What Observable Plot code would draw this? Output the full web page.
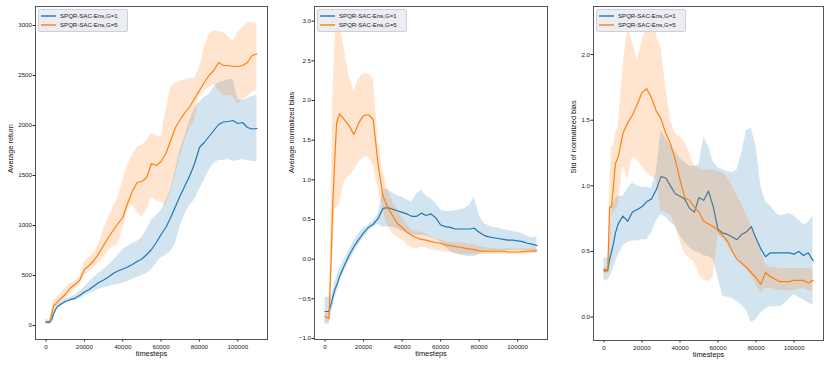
<!DOCTYPE html>
<html><head><meta charset="utf-8">
<script src="https://cdn.jsdelivr.net/npm/d3@7"></script>
<script src="https://cdn.jsdelivr.net/npm/@observablehq/plot@0.6"></script>
<style>
body{margin:0;background:#fff;font-family:"Liberation Sans",Arial,sans-serif;}
#wrap{position:relative;width:830px;height:365px;overflow:hidden;}
.panel{position:absolute;top:0;}
.legend{position:absolute;top:9px;width:90px;height:23px;background:rgba(234,234,242,0.9);border:0.8px solid #cfcfd8;border-radius:2px;box-sizing:border-box;}
.legend svg{position:absolute;left:0;top:0;overflow:visible;}
</style>
</head><body><div id="wrap"></div>
<script>
const steps = [0, 2000, 3000, 4000, 5000, 6000, 7500, 10000, 12500, 15000, 17500, 20000, 22500, 25000, 27500, 30000, 32500, 35000, 37500, 40000, 42500, 45000, 47500, 50000, 52500, 55000, 57500, 60000, 62500, 65000, 67500, 70000, 72500, 75000, 77500, 80000, 82500, 85000, 87500, 90000, 92500, 95000, 97500, 100000, 102500, 105000, 107500, 110000];

const seriesNames = ["SPQR-SAC-Ens,G=1", "SPQR-SAC-Ens,G=5"];
const seriesColors = ["#1f77b4", "#ff7f0e"];
const xTicks = [0, 20000, 40000, 60000, 80000, 100000];
const xLabel = "timesteps";

// Panel 1: Average return
const returnG1   = [30,30,60,120,160,190,210, 240,258,272,300,335,360,395,430,455,485,520,545,565,585,610,640,665,710,760,830,910,980,1080,1190,1300,1400,1500,1620,1780,1830,1890,1950,2010,2035,2040,2050,2020,2030,1980,1965,1970];
const returnG1Lo = [15,15,45,100,140,170,190, 220,240,250,270,295,320,340,360,375,390,400,410,420,440,460,480,500,520,560,620,680,700,740,820,990,1120,1200,1260,1360,1450,1550,1620,1650,1650,1660,1640,1650,1660,1650,1640,1640];
const returnG1Hi = [50,50,75,140,180,210,230, 262,280,300,340,385,430,480,520,560,600,650,700,760,790,820,840,880,960,1050,1100,1150,1240,1360,1560,1760,1900,2050,2170,2230,2280,2310,2380,2430,2440,2460,2460,2260,2250,2270,2290,2300];
const returnG5   = [40,40,120,200,215,240,265, 310,370,410,450,560,600,650,720,800,880,950,1020,1080,1220,1340,1430,1440,1480,1620,1600,1640,1720,1850,1980,2060,2130,2190,2270,2350,2430,2500,2550,2630,2600,2600,2590,2590,2600,2630,2700,2715];
const returnG5Lo = [20,20,80,150,170,200,220, 260,320,360,400,500,540,580,630,680,740,790,810,960,1150,1210,1130,1090,1150,1280,1250,1230,1200,1330,1500,1700,1850,1980,2050,2300,2340,2380,2410,2350,2300,2300,2290,2220,2250,2290,2330,2350];
const returnG5Hi = [60,60,160,250,260,290,310, 370,420,440,480,640,680,720,820,960,1080,1180,1280,1450,1600,1700,1780,1800,1850,1920,1900,1880,2150,2380,2420,2440,2460,2470,2470,2580,2780,2910,2950,2940,2930,2890,2840,2930,2980,3030,3030,3020];
const returnTicks = [0, 500, 1000, 1500, 2000, 2500, 3000];

// Panel 2: Average normalized bias
const biasG1   = [-0.66,-0.66,-0.58,-0.48,-0.39,-0.33,-0.22, -0.08,0.05,0.16,0.25,0.33,0.40,0.44,0.51,0.64,0.65,0.63,0.61,0.59,0.57,0.54,0.54,0.58,0.55,0.57,0.52,0.43,0.41,0.40,0.38,0.38,0.38,0.38,0.39,0.34,0.30,0.28,0.27,0.26,0.25,0.24,0.24,0.23,0.22,0.20,0.19,0.17];
const biasG1Lo = [-0.82,-0.82,-0.72,-0.60,-0.50,-0.42,-0.30, -0.15,-0.03,0.08,0.18,0.27,0.35,0.40,0.44,0.40,0.41,0.40,0.38,0.35,0.33,0.31,0.30,0.30,0.29,0.27,0.25,0.22,0.15,0.10,0.07,0.05,0.04,0.03,0.03,0.06,0.10,0.11,0.11,0.11,0.11,0.11,0.11,0.11,0.11,0.11,0.10,0.10];
const biasG1Hi = [-0.48,-0.48,-0.50,-0.40,-0.30,-0.22,-0.12, 0.00,0.12,0.23,0.32,0.39,0.43,0.48,0.56,0.87,0.88,0.83,0.80,0.78,0.75,0.72,0.82,0.87,0.80,0.76,0.70,0.62,0.60,0.60,0.61,0.62,0.64,0.68,0.78,0.55,0.45,0.42,0.40,0.39,0.37,0.36,0.35,0.34,0.32,0.29,0.27,0.28];
const biasG5   = [-0.72,-0.75,-0.10,0.70,1.25,1.72,1.83, 1.76,1.68,1.57,1.72,1.81,1.82,1.76,1.20,0.80,0.65,0.55,0.45,0.40,0.34,0.30,0.27,0.25,0.24,0.22,0.21,0.20,0.18,0.17,0.16,0.15,0.14,0.13,0.12,0.105,0.10,0.10,0.10,0.10,0.10,0.09,0.09,0.09,0.095,0.10,0.10,0.105];
const biasG5Lo = [-0.78,-0.80,-0.55,0.00,0.60,0.65,0.68, 0.98,1.05,1.12,1.22,1.28,1.29,1.17,0.90,0.62,0.41,0.32,0.28,0.24,0.18,0.14,0.13,0.15,0.14,0.12,0.11,0.10,0.09,0.08,0.07,0.06,0.06,0.06,0.06,0.06,0.06,0.06,0.06,0.06,0.06,0.06,0.06,0.06,0.06,0.06,0.07,0.07];
const biasG5Hi = [-0.68,-0.68,0.50,2.00,2.70,3.10,2.95, 2.65,2.30,2.12,2.27,2.34,2.33,2.27,1.50,1.10,0.88,0.72,0.62,0.52,0.44,0.37,0.35,0.34,0.32,0.28,0.26,0.24,0.22,0.21,0.21,0.20,0.20,0.19,0.18,0.16,0.15,0.14,0.13,0.13,0.13,0.13,0.13,0.13,0.13,0.13,0.14,0.14];
const biasTicks = [-1, -0.5, 0, 0.5, 1, 1.5, 2, 2.5, 3];

// Panel 3: Std of normalized bias
const stdG1   = [0.36,0.36,0.44,0.50,0.56,0.64,0.71, 0.77,0.73,0.80,0.82,0.84,0.88,0.90,0.97,1.07,1.06,1.00,0.94,0.92,0.90,0.83,0.80,0.91,0.89,0.96,0.84,0.67,0.64,0.63,0.61,0.59,0.63,0.65,0.69,0.60,0.52,0.46,0.49,0.49,0.49,0.49,0.49,0.48,0.50,0.47,0.49,0.43];
const stdG1Lo = [0.28,0.28,0.30,0.33,0.38,0.42,0.47, 0.54,0.57,0.58,0.58,0.59,0.59,0.64,0.73,0.78,0.76,0.72,0.69,0.62,0.57,0.53,0.50,0.49,0.47,0.46,0.44,0.30,0.16,0.15,0.14,0.12,0.09,0.05,-0.04,-0.02,0.03,0.06,0.08,0.08,0.08,0.10,0.14,0.17,0.15,0.13,0.11,0.09];
const stdG1Hi = [0.45,0.45,0.55,0.80,0.87,0.90,0.92, 0.92,0.98,1.02,1.00,0.99,0.99,0.98,1.10,1.42,1.36,1.31,1.26,1.21,1.18,1.15,1.15,1.16,1.37,1.30,1.18,1.14,1.12,1.11,1.10,1.12,1.25,1.42,1.44,1.30,1.00,0.88,0.85,0.80,0.77,0.78,0.79,0.77,0.74,0.70,0.72,0.77];
const stdG5   = [0.35,0.35,0.84,0.84,1.00,1.17,1.22, 1.40,1.48,1.54,1.62,1.71,1.74,1.67,1.57,1.51,1.40,1.32,1.20,1.05,0.91,0.89,0.84,0.80,0.73,0.71,0.69,0.66,0.62,0.58,0.50,0.44,0.41,0.38,0.34,0.30,0.25,0.34,0.31,0.29,0.27,0.27,0.27,0.28,0.28,0.28,0.26,0.28];
const stdG5Lo = [0.33,0.33,0.40,0.75,0.80,0.82,0.85, 1.15,1.05,1.22,1.20,1.15,1.10,1.07,1.05,0.80,0.80,0.78,0.70,0.58,0.48,0.45,0.42,0.33,0.28,0.27,0.30,0.62,0.60,0.55,0.50,0.46,0.40,0.36,0.31,0.25,0.18,0.22,0.22,0.21,0.20,0.20,0.20,0.20,0.21,0.22,0.20,0.19];
const stdG5Hi = [0.38,0.38,1.00,1.30,1.30,1.40,1.45, 1.90,2.21,2.10,1.95,2.10,2.22,2.37,2.15,2.05,1.75,1.50,1.40,1.37,1.33,1.25,1.15,1.13,1.12,1.12,1.12,1.11,1.10,1.06,1.00,0.93,0.86,0.78,0.70,0.62,0.50,0.40,0.38,0.38,0.37,0.37,0.37,0.37,0.37,0.37,0.37,0.36];
const stdTicks = [0, 0.5, 1, 1.5, 2];

const minus = s => s.replace("-", "\u2212");
const panels = [
  {left: 0, width: 280, ml: 35, mr: 13, mb: 26, yDomain: [-140, 3190], yTicks: returnTicks, fmt: d => minus(String(d)), ylabel: "Average return", ldx: -25,
   s: [[returnG1, returnG1Lo, returnG1Hi], [returnG5, returnG5Lo, returnG5Hi]]},
  {left: 280, width: 275, ml: 34, mr: 8, mb: 26, yDomain: [-1.013, 3.185], yTicks: biasTicks, fmt: d => minus(d.toFixed(1)), ylabel: "Average normalized bias", ldx: -22.5,
   s: [[biasG1, biasG1Lo, biasG1Hi], [biasG5, biasG5Lo, biasG5Hi]]},
  {left: 555, width: 275, ml: 38, mr: 7, mb: 25, yDomain: [-0.178, 2.366], yTicks: stdTicks, fmt: d => minus(d.toFixed(1)), ylabel: "Std of normalized bias", ldx: -19.5,
   s: [[stdG1, stdG1Lo, stdG1Hi], [stdG5, stdG5Lo, stdG5Hi]]}
];

const NS = "http://www.w3.org/2000/svg";
const wrap = document.getElementById("wrap");
for (const p of panels) {
  const rows = steps.map((x, i) => ({
    x,
    m0: p.s[0][0][i], lo0: p.s[0][1][i], hi0: p.s[0][2][i],
    m1: p.s[1][0][i], lo1: p.s[1][1][i], hi1: p.s[1][2][i]
  }));
  const chart = Plot.plot({
    width: p.width, height: 365,
    marginLeft: p.ml, marginRight: p.mr, marginTop: 6, marginBottom: p.mb,
    style: {fontFamily: "'Liberation Sans', Arial, sans-serif", fontSize: "6.2px", color: "#222", background: "transparent"},
    x: {domain: [-5500, 115500], ticks: xTicks, tickFormat: d => String(d), tickSize: 2.5, tickPadding: 2.5, label: null},
    y: {domain: p.yDomain, ticks: p.yTicks, tickFormat: p.fmt, tickSize: 2.5, tickPadding: 1, label: null},
    marks: [
      Plot.areaY(rows, {x: "x", y1: "lo0", y2: "hi0", fill: seriesColors[0], fillOpacity: 0.2, clip: true}),
      Plot.lineY(rows, {x: "x", y: "m0", stroke: seriesColors[0], strokeWidth: 1.2, clip: true}),
      Plot.areaY(rows, {x: "x", y1: "lo1", y2: "hi1", fill: seriesColors[1], fillOpacity: 0.2, clip: true}),
      Plot.lineY(rows, {x: "x", y: "m1", stroke: seriesColors[1], strokeWidth: 1.2, clip: true}),
      Plot.frame({stroke: "#555", strokeWidth: 1}),
      Plot.text([xLabel], {frameAnchor: "bottom", dy: 16, fontSize: 7.4, fill: "#111"}),
      Plot.text([p.ylabel], {frameAnchor: "left", dx: p.ldx, rotate: -90, fontSize: 7.4, fill: "#111"})
    ]
  });
  const div = document.createElement("div");
  div.className = "panel";
  div.style.left = p.left + "px";
  div.appendChild(chart);
  wrap.appendChild(div);

  const lg = document.createElement("div");
  lg.className = "legend";
  lg.style.left = (p.left + p.ml + 3) + "px";
  const svg = document.createElementNS(NS, "svg");
  svg.setAttribute("width", 90);
  svg.setAttribute("height", 23);
  seriesNames.forEach((name, k) => {
    const cy = 6 + k * 9;
    const ln = document.createElementNS(NS, "line");
    ln.setAttribute("x1", 2); ln.setAttribute("x2", 17);
    ln.setAttribute("y1", cy); ln.setAttribute("y2", cy);
    ln.setAttribute("stroke", seriesColors[k]);
    ln.setAttribute("stroke-width", 1.4);
    const tx = document.createElementNS(NS, "text");
    tx.setAttribute("x", 21); tx.setAttribute("y", cy);
    tx.setAttribute("dy", "0.35em");
    tx.setAttribute("font-size", "6.1");
    tx.setAttribute("fill", "#222");
    tx.setAttribute("font-family", "'Liberation Sans', Arial, sans-serif");
    tx.textContent = name;
    svg.appendChild(ln);
    svg.appendChild(tx);
  });
  lg.appendChild(svg);
  wrap.appendChild(lg);
}
</script>
</body></html>
